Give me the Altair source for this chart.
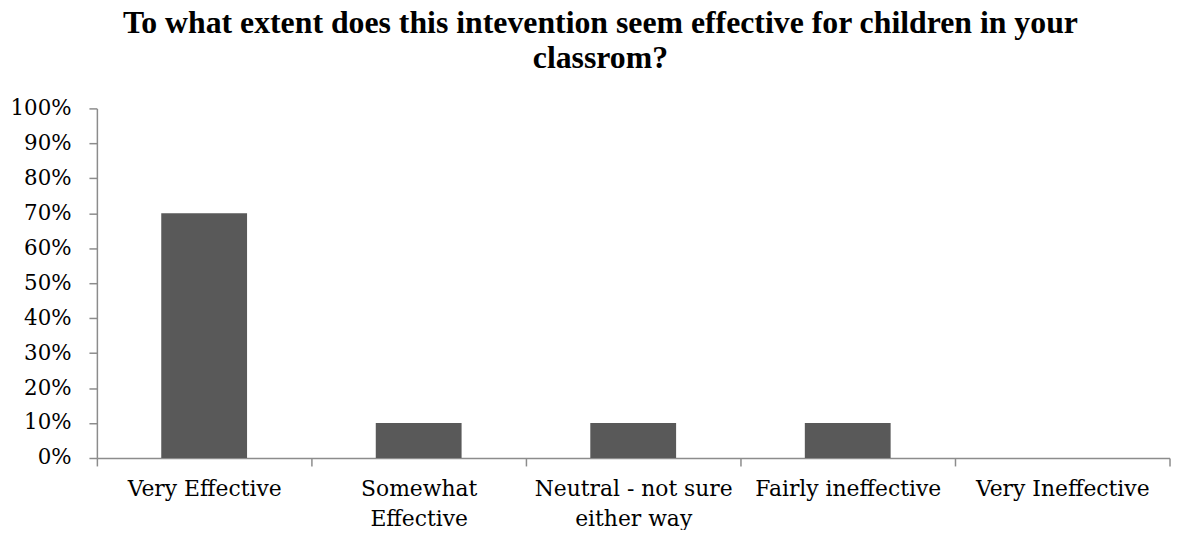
import altair as alt
import pandas as pd

categories = [
    "Very Effective",
    "Somewhat Effective",
    "Neutral - not sure either way",
    "Fairly ineffective",
    "Very Ineffective",
]
label_lines = {
    "Somewhat Effective": ["Somewhat", "Effective"],
    "Neutral - not sure either way": ["Neutral - not sure", "either way"],
}
values = [0.70, 0.10, 0.10, 0.10, 0.0]
y_ticks = [0, 0.1, 0.2, 0.3, 0.4, 0.5, 0.6, 0.7, 0.8, 0.9, 1.0]
title_lines = [
    "To what extent does this intevention seem effective for children in your",
    "classrom?",
]

df = pd.DataFrame({"category": categories, "value": values})

label_expr = "datum.label"
for k, v in label_lines.items():
    label_expr = f"datum.label == '{k}' ? ['{v[0]}', '{v[1]}'] : " + label_expr

AXIS_GRAY = "#8c8c8c"
LABEL_FONT = "DejaVu Serif"

chart = (
    alt.Chart(df)
    .mark_bar(color="#595959", width=alt.RelativeBandSize(0.4))
    .encode(
        x=alt.X(
            "category:N",
            sort=categories,
            scale=alt.Scale(paddingInner=0, paddingOuter=0),
            axis=alt.Axis(
                title=None,
                labelAngle=0,
                labelExpr=label_expr,
                labelFont=LABEL_FONT,
                labelFontSize=22,
                labelColor="black",
                labelLineHeight=30,
                labelBaseline="top",
                labelPadding=13,
                labelLimit=0,
                tickBand="extent",
                tickColor=AXIS_GRAY,
                tickSize=8,
                tickWidth=1.5,
                domainColor=AXIS_GRAY,
                domainWidth=1.5,
                grid=False,
            ),
        ),
        y=alt.Y(
            "value:Q",
            scale=alt.Scale(domain=[0, 1], nice=False),
            axis=alt.Axis(
                title=None,
                values=y_ticks,
                format=".0%",
                labelFont=LABEL_FONT,
                labelFontSize=21.5,
                labelColor="black",
                labelPadding=18,
                tickColor=AXIS_GRAY,
                tickSize=8,
                tickWidth=1.5,
                domainColor=AXIS_GRAY,
                domainWidth=1.5,
                grid=False,
            ),
        ),
    )
    .properties(
        width=1080,
        height=352,
        background="white",
        title=alt.TitleParams(
            text=title_lines,
            font="Liberation Serif",
            fontSize=32,
            fontWeight="bold",
            color="black",
            lineHeight=35,
            anchor="middle",
            frame="group",
            dx=-33,
            offset=23,
        ),
        autosize=alt.AutoSizeParams(type="none"),
        padding={"left": 89.5, "top": 99.3, "right": 2.5, "bottom": 71},
    )
    .configure_view(strokeWidth=0)
)

chart.save("out.html", embed_options={"renderer": "svg", "actions": False})
